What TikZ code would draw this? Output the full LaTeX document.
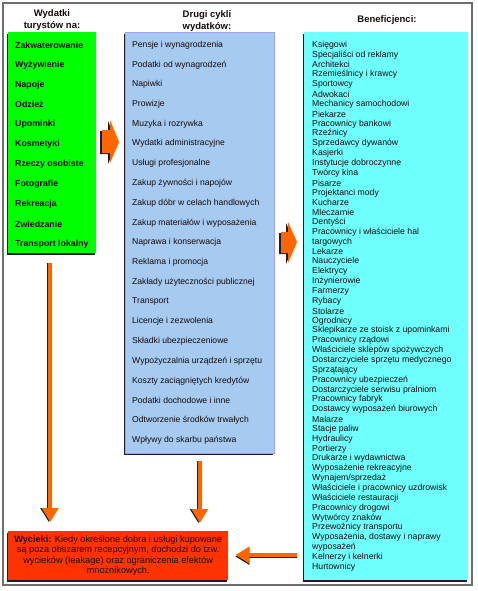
\documentclass[tikz,border=0pt]{standalone}
\usepackage{fontspec}
\setmainfont{Liberation Sans}
\usetikzlibrary{arrows.meta,shadows}
\definecolor{grn}{RGB}{0,255,0}
\definecolor{lblue}{RGB}{166,202,240}
\definecolor{lblueedge}{RGB}{160,160,240}
\definecolor{cyn}{RGB}{110,255,255}
\definecolor{redb}{RGB}{255,51,0}
\definecolor{org}{RGB}{255,102,0}
\definecolor{shad}{RGB}{40,25,45}
\definecolor{framec}{RGB}{110,110,110}
\definecolor{txt}{RGB}{20,10,10}
\tikzset{
  panel/.style={anchor=north west, inner sep=0pt,
    drop shadow={shadow xshift=-1.5pt, shadow yshift=-1.5pt, fill=shad, opacity=1}},
  title/.style={align=center, font=\fontsize{9.5}{11.5}\selectfont\bfseries, text=txt, inner sep=0pt},
  gitem/.style={anchor=west, inner sep=0pt, font=\fontsize{8.8}{9}\selectfont\bfseries, text=txt},
  bitem/.style={anchor=west, inner sep=0pt, font=\fontsize{8.6}{9}\selectfont, text=txt},
  citem/.style={anchor=west, inner sep=0pt, font=\fontsize{8.7}{9}\selectfont, text=txt},
  tipv/.style={-{Triangle[width=16pt,length=14pt]}},
  flowv/.style={draw=org, line width=3.5pt, tipv,
    preaction={draw=shad, line width=3.5pt, tipv, transform canvas={xshift=-1.5pt}}},
  flowh/.style={draw=org, line width=3.5pt, tipv,
    preaction={draw=shad, line width=3.5pt, tipv, transform canvas={yshift=-1.5pt}}},
}
\begin{document}
\begin{tikzpicture}[x=1pt,y=-1pt]
\useasboundingbox (0,0) rectangle (477,591);
\fill[white] (0,0) rectangle (477,591);
\draw[framec, line width=1.2pt] (3,3) rectangle (472,585);

% panels
\node[panel, fill=grn, minimum width=88pt, minimum height=221pt] (green) at (8,32) {};
\node[panel, fill=lblue, draw=lblueedge, line width=0.6pt, minimum width=149pt, minimum height=421pt] (blue) at (125,32) {};
\node[panel, fill=cyn, minimum width=164pt, minimum height=548pt] (cyan) at (304,32) {};
\node[panel, fill=redb, minimum width=220pt, minimum height=49pt, align=center,
      font=\fontsize{9.2}{10.3}\selectfont, text=txt] (red) at (8,531)
  {\textbf{Wycieki:} Kiedy określone dobra i usługi kupowane\\
   są poza obszarem recepcyjnym, dochodzi do tzw.\\
   wycieków (leakage) oraz ograniczenia efektów\\
   mnożnikowych.};

% titles
\node[title] (t1) at (52,20) {Wydatki\\turystów na:};
\node[title] (t2) at (207,21) {Drugi cykli\\wydatków:};
\node[title] (t3) at (387,20) {Beneficjenci:};

% green items
\foreach \t [count=\i] in {Zakwaterowanie,Wyżywienie,Napoje,Odzież,Upominki,Kosmetyki,Rzeczy osobiste,Fotografie,Rekreacja,Zwiedzanie,Transport lokalny}
  \node[gitem] (g\i) at (15,{45+(\i-1)*19.9}) {\t};

% blue items
\foreach \t [count=\i] in {Pensje i wynagrodzenia,Podatki od wynagrodzeń,Napiwki,Prowizje,Muzyka i rozrywka,Wydatki administracyjne,Usługi profesjonalne,Zakup żywności i napojów,Zakup dóbr w celach handlowych,Zakup materiałów i wyposażenia,Naprawa i konserwacja,Reklama i promocja,Zakłady użyteczności publicznej,Transport,Licencje i zezwolenia,Składki ubezpieczeniowe,Wypożyczalnia urządzeń i sprzętu,Koszty zaciągniętych kredytów,Podatki dochodowe i inne,Odtworzenie środków trwałych,Wpływy do skarbu państwa}
  \node[bitem] (b\i) at (132,{45+(\i-1)*19.75}) {\t};

% cyan items
\foreach \t [count=\i] in {Księgowi,Specjaliści od reklamy,Architekci,Rzemieślnicy i krawcy,Sportowcy,Adwokaci,Mechanicy samochodowi,Piekarze,Pracownicy bankowi,Rzeźnicy,Sprzedawcy dywanów,Kasjerki,Instytucje dobroczynne,Twórcy kina,Pisarze,Projektanci mody,Kucharze,Mleczarnie,Dentyści,Pracownicy i właściciele hal,targowych,Lekarze,Nauczyciele,Elektrycy,Inżynierowie,Farmerzy,Rybacy,Stolarze,Ogrodnicy,Sklepikarze ze stoisk z upominkami,Pracownicy rządowi,Właściciele sklepów spożywczych,Dostarczyciele sprzętu medycznego,Sprzątający,Pracownicy ubezpieczeń,Dostarczyciele serwisu pralniom,Pracownicy fabryk,Dostawcy wyposażeń biurowych,Malarze,Stacje paliw,Hydraulicy,Portierzy,Drukarze i wydawnictwa,Wyposażenie rekreacyjne,Wynajem/sprzedaż,Właściciele i pracownicy uzdrowisk,Właściciele restauracji,Pracownicy drogowi,Wytwórcy znaków,Przewoźnicy transportu,{Wyposażenia, dostawy i naprawy},wyposażeń,Kelnerzy i kelnerki,Hurtownicy}
  \node[citem] (c\i) at (312,{45+(\i-1)*9.85}) {\t};

% block arrows between columns
\fill[shad] (100,131) -- (108,131) -- (108,121) -- (117,143) -- (108,164) -- (108,154) -- (100,154) -- cycle;
\fill[org] (102,130) -- (110,130) -- (110,120) -- (119,142) -- (110,163) -- (110,153) -- (102,153) -- cycle;
\fill[shad] (279,233) -- (286,233) -- (286,223) -- (295,243) -- (286,264) -- (286,254) -- (279,254) -- cycle;
\fill[org] (281,232) -- (288,232) -- (288,222) -- (297,242) -- (288,263) -- (288,253) -- (281,253) -- cycle;

% connectors to leakage box
\draw[flowv, shorten <=10pt, shorten >=9pt] ([xshift=-2pt]green.south) -- ([xshift=-2pt]green.south |- red.north);
\draw[flowv, shorten <=7pt, shorten >=8pt] (blue.south) -- (blue.south |- red.north);
\coordinate (hstart) at (297,555);
\draw[flowh, shorten >=7pt] (hstart) -- (hstart -| red.east);
\end{tikzpicture}
\end{document}
